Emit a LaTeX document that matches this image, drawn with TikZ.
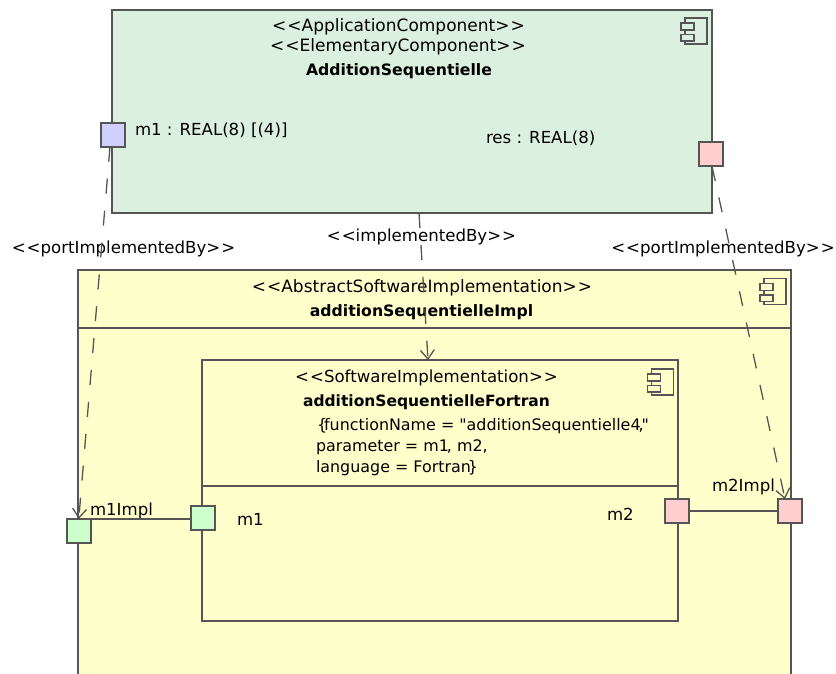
\documentclass[tikz,border=0pt]{standalone}
\usepackage{fontspec}
\newfontfamily\dfont{DejaVu Sans}
\usetikzlibrary{arrows.meta}
\definecolor{edge}{HTML}{555555}
\definecolor{appgreen}{HTML}{DBF0DE}
\definecolor{implyellow}{HTML}{FFFFCC}
\definecolor{portblue}{HTML}{D0D0FF}
\definecolor{portpink}{HTML}{FFCFCF}
\definecolor{portgreen}{HTML}{CCFFCC}
\tikzset{
  box/.style={draw=edge,line width=1.7pt,rectangle,inner sep=0pt,outer sep=0pt},
  innerbox/.style={box,line width=1.5pt},
  port/.style={box,minimum width=24pt,minimum height=24pt},
  divider/.style={draw=edge,line width=1.6pt},
  wire/.style={draw=edge,line width=1.6pt},
  dep/.style={draw=edge,line width=1.3pt,dash pattern=on 15pt off 17pt,-{Straight Barb[length=9pt,width=14pt,line width=1.3pt]}},
  icon/.style={draw=edge,line width=1.4pt},
  txt/.style={inner sep=0pt,outer sep=0pt,anchor=base,font=\dfont\fontsize{16.6}{20}\selectfont},
  txtw/.style={txt,font=\dfont\fontsize{17}{20}\selectfont},
  txtb/.style={txt,font=\dfont\fontsize{15.7}{19}\selectfont\bfseries},
  txtl/.style={txt,anchor=base west},
  txtc/.style={txtl,font=\dfont\fontsize{15.9}{19}\selectfont}
}
\newcommand{\compicon}[3]{%
  \begin{scope}[shift={(#1,#2)}]
    \draw[icon] (3.8,0) rectangle (26,26);
    \draw[icon,fill=#3] (0,5) rectangle (13,12);
    \draw[icon,fill=#3] (0,16.5) rectangle (13,23);
  \end{scope}}
\begin{document}
\begin{tikzpicture}[x=1pt,y=-1pt]
\useasboundingbox (0,0) rectangle (836,673);
\clip (0,0) rectangle (836,673);
% boxes
\node[box,fill=appgreen,minimum width=600pt,minimum height=203pt] (app) at (412,111.5) {};
\node[box,fill=implyellow,minimum width=713pt,minimum height=420pt] (abs) at (434.5,480) {};
\coordinate (absL) at (78,328);
\coordinate (absR) at (791,328);
\draw[divider] (absL) -- (absR);
\node[innerbox,fill=implyellow,minimum width=476pt,minimum height=261pt] (soft) at (440,490.5) {};
\coordinate (softL) at (202,486);
\coordinate (softR) at (678,486);
\draw[divider,line width=1.5pt] (softL) -- (softR);
\compicon{681}{18}{appgreen}
\compicon{760}{278.4}{implyellow}
\compicon{647.4}{369}{implyellow}
% texts
\node[txtw] (t1) at (398.5,31.5) {<\kern1pt<ApplicationComponent>\kern1pt>};
\node[txtw] (t2) at (398,51.5) {<\kern1pt<ElementaryComponent>\kern1pt>};
\node[txtb] (t3) at (399,75) {AdditionSequentielle};
\node[txtl] (t4) at (135,135) {m1 : REAL(8) [(4)]};
\node[txtl] (t5) at (486,143) {res : REAL(8)};
\node[txt] (t6) at (123.5,253.5) {<\kern1pt<portImplementedBy>\kern1pt>};
\node[txt] (t7) at (421.5,241.7) {<\kern1pt<implementedBy>\kern1pt>};
\node[txt] (t8) at (723,253.5) {<\kern1pt<portImplementedBy>\kern1pt>};
\node[txtw] (t9) at (422,292) {<\kern1pt<AbstractSoftwareImplementation>\kern1pt>};
\node[txtb] (t10) at (421.5,316) {additionSequentielleImpl};
\node[txt] (t11) at (426.5,382.7) {<\kern1pt<SoftwareImplementation>\kern1pt>};
\node[txtb,font=\dfont\fontsize{15.5}{19}\selectfont\bfseries] (t12) at (426.5,406.7) {additionSequentielleFortran};
\node[txtc] (t13) at (317,430.7) {\{\kern-3pt functionName = "additionSequentielle4\kern-2pt,\kern-2pt"};
\node[txtc] (t14) at (316,451.7) {parameter = m1\kern-2pt, m2,};
\node[txtc] (t15) at (316,472.3) {language = Fortran\kern-3pt\}};
\node[txtl] (t16) at (90,515) {m1Impl};
\node[txtl] (t17) at (237,525) {m1};
\node[txtl] (t18) at (607,520) {m2};
\node[txtl] (t19) at (712,491.7) {m2Impl};
% ports
\node[port,fill=portblue] (pm1) at (113,134.8) {};
\node[port,fill=portpink] (pres) at (711,154.2) {};
\node[port,fill=portgreen] (pm1i) at (78.8,530.8) {};
\node[port,fill=portgreen] (pm1s) at (203.3,517.8) {};
\node[port,fill=portpink] (pm2s) at (677,511) {};
\node[port,fill=portpink] (pm2i) at (790,511) {};
% connectors
\draw[wire] (pm1i.north east) -- (pm1i.north east -| pm1s.west);
\draw[wire] (pm2s.east) -- (pm2i.west);
\draw[dep] ([xshift=-3pt]pm1.south) -- (pm1i.north);
\draw[dep] (app.south -| 419,213) -- (soft.north -| 428,360);
\draw[dep] ([xshift=1pt]pres.south) -- ([xshift=-5pt]pm2i.north);
\end{tikzpicture}
\end{document}
